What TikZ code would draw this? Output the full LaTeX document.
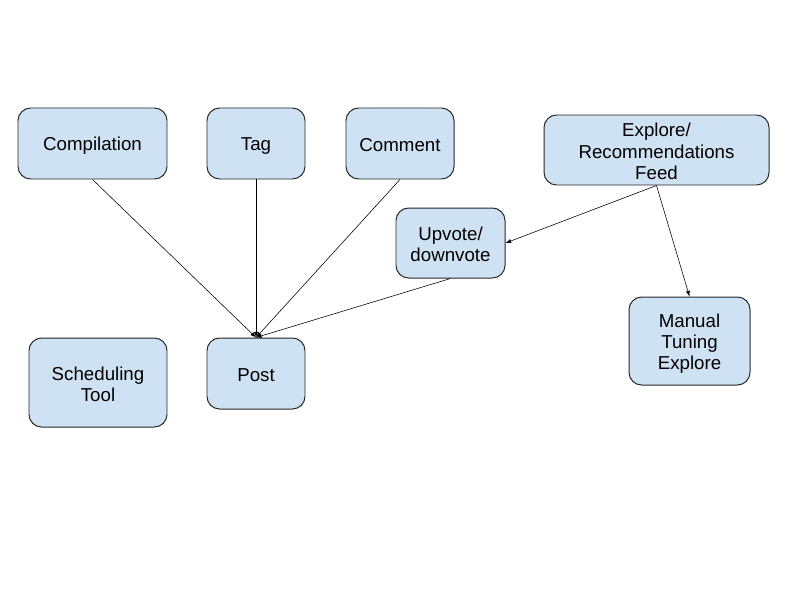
\documentclass[tikz,border=0pt]{standalone}
\usepackage{fontspec}
\setmainfont{Liberation Sans}
\newcommand{\boxlead}{\rule{0pt}{13.3pt}}
\begin{document}
\begin{tikzpicture}[x=0.025cm,y=-0.025cm,
    box/.style={draw=black!85,fill=blue1,rounded corners=9pt,line width=0.7pt,
      align=center,inner sep=0pt,font=\fontsize{13.3}{15.1}\selectfont,
      execute at begin node={\rule{0pt}{13pt}},
      execute at end node={\rule[-1.6pt]{0pt}{0pt}}}]
                \definecolor{blue1}{HTML}{CFE2F3}
                \useasboundingbox (0,0) rectangle (800,600);
                \node[box,minimum width=149*0.025cm,minimum height=71*0.025cm] (comp) at (92.5,143.5) {Compilation};
                \node[box,minimum width=98*0.025cm,minimum height=71*0.025cm] (tag) at (256,143.5) {Tag};
                \node[box,minimum width=108*0.025cm,minimum height=71*0.025cm] (comment) at (400,143.5) {Comment};
                \node[box,minimum width=225*0.025cm,minimum height=70*0.025cm] (explore) at (656.5,150) {\boxlead Explore/\\Recommendations\\Feed};
                \node[box,minimum width=109*0.025cm,minimum height=70*0.025cm] (vote) at (450.5,243) {\boxlead Upvote/\\downvote};
                \node[box,minimum width=121*0.025cm,minimum height=88*0.025cm] (manual) at (689.5,341) {\boxlead Manual\\Tuning\\Explore};
                \node[box,minimum width=138*0.025cm,minimum height=89*0.025cm] (sched) at (98,382.5) {\boxlead Scheduling\\Tool};
                \node[box,minimum width=98*0.025cm,minimum height=71*0.025cm] (post) at (256,373.5) {Post};
                
                \draw[-latex] (comp.south) -- (post.north);
                \draw[-latex] (tag.south) -- (post.north);
                \draw[-latex] (comment.south) -- (post.north);
                \draw[-latex] (vote.south) -- (post.north);
                
                \draw[-latex] (explore.south) -- (vote.east);
                \draw[-latex] (explore.south) -- (manual.north);
            \end{tikzpicture}
\end{document}
